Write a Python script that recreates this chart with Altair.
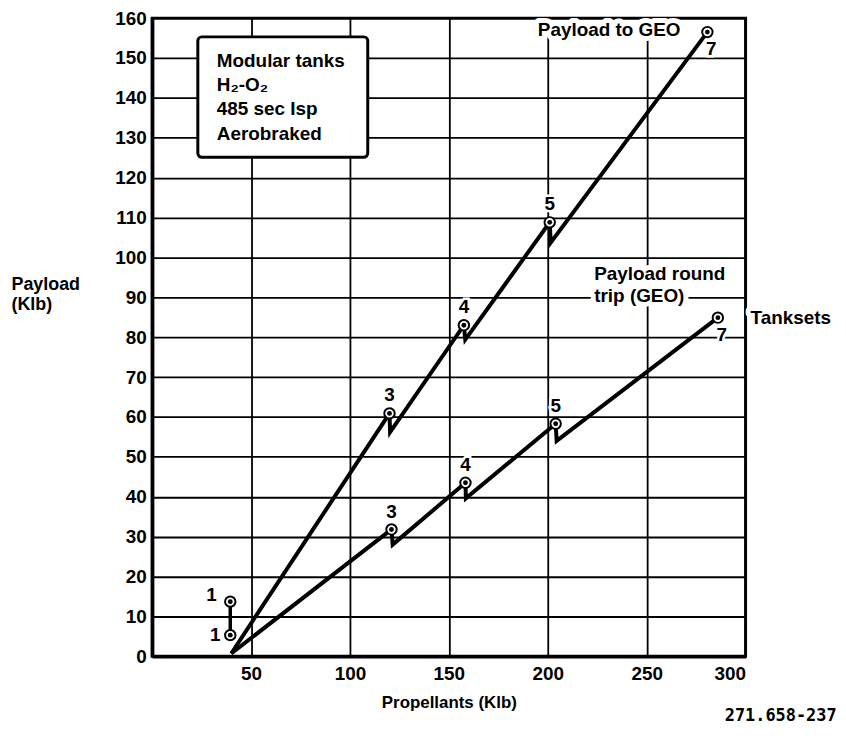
import altair as alt
import pandas as pd

FONT = "Liberation Sans"
FS = 19

# ---- series polylines (x = propellants Klb, y = payload Klb), notches included
geo_x = [40, 120, 120.3, 157.6, 158.3, 201, 201.5, 280.7]
geo_y = [0.7, 60.9, 56.2, 83.0, 79.4, 108.8, 103.7, 156.5]
rt_x = [40, 121, 121.6, 158.4, 158.6, 204, 204.5, 286]
rt_y = [0.7, 31.8, 28.0, 43.5, 39.6, 58.3, 54.0, 84.9]

# ---- tankset markers
mk_series = ["GEO", "GEO", "GEO", "GEO", "GEO", "RT", "RT", "RT", "RT", "RT"]
mk_label = ["1", "3", "4", "5", "7", "1", "3", "4", "5", "7"]
mk_x = [39.5, 120, 157.6, 201, 280.7, 39.5, 121, 158.4, 204, 286]
mk_y = [13.7, 60.9, 83.0, 108.8, 156.5, 5.3, 31.8, 43.5, 58.3, 84.9]
mk_pos = ["ul", "a", "a", "a", "br", "l", "a", "a", "a", "br"]

# ---- annotations
ann_text = ["Payload to GEO", "Payload round\ntrip (GEO)", "Tanksets"]
ann_x = [195, 223.5, 302.5]
ann_y = [157.1, 95.8, 84.9]
fig_id = "271.658-237"
fig_x, fig_y = 346, -14.9

box_text = "Modular tanks\nH₂-O₂\n485 sec Isp\nAerobraked"
box_x, box_x2 = 23.1, 109
box_y, box_y2 = 125.1, 155.3
box_tx, box_ty = 32.7, 151.6

x_ticks = [50, 100, 150, 200, 250, 300]
y_ticks = list(range(0, 161, 10))

lines = pd.DataFrame(
    [{"series": "GEO", "order": i, "x": x, "y": y} for i, (x, y) in enumerate(zip(geo_x, geo_y))]
    + [{"series": "RT", "order": i, "x": x, "y": y} for i, (x, y) in enumerate(zip(rt_x, rt_y))]
)
markers = pd.DataFrame({"series": mk_series, "label": mk_label, "x": mk_x, "y": mk_y, "pos": mk_pos})
link = markers[markers["label"] == "1"]
ann = pd.DataFrame({"text": ann_text, "x": ann_x, "y": ann_y})
figid = pd.DataFrame({"text": [fig_id], "x": [fig_x], "y": [fig_y]})
box = pd.DataFrame({"x": [box_x], "x2": [box_x2], "y": [box_y], "y2": [box_y2]})
boxt = pd.DataFrame({"text": [box_text], "x": [box_tx], "y": [box_ty]})

xs = alt.Scale(domain=[0, 300], nice=False, zero=False)
ys = alt.Scale(domain=[0, 160], nice=False, zero=False)

X = alt.X(
    "x:Q", scale=xs,
    axis=alt.Axis(values=x_ticks, title="Propellants (Klb)", titleY=47, titleBaseline="middle",
                  titleFontSize=17, labelPadding=8, ticks=False),
)
Y = alt.Y(
    "y:Q", scale=ys,
    axis=alt.Axis(values=y_ticks, title=["Payload", "(Klb)"], titleAngle=0, titleAlign="left",
                  titleBaseline="top", titleX=-142, titleY=259, titleLineHeight=20,
                  titleFontSize=18, labelPadding=6, ticks=False),
)

base = alt.Chart(lines)

rect = alt.Chart(box).mark_rect(fill="white", stroke="black", strokeWidth=3, cornerRadius=4).encode(
    x=alt.X("x:Q", scale=xs), x2="x2:Q", y=alt.Y("y:Q", scale=ys), y2="y2:Q"
)

boxtext = alt.Chart(boxt).mark_text(
    align="left", baseline="top", lineBreak="\n", lineHeight=24.5,
    font=FONT, fontSize=FS, fontWeight="bold", color="black",
).encode(x=alt.X("x:Q", scale=xs), y=alt.Y("y:Q", scale=ys), text="text:N")

line = base.mark_line(color="black", strokeWidth=4, strokeJoin="miter").encode(
    x=X, y=Y, detail="series:N", order="order:Q"
)

linkline = alt.Chart(link).mark_line(color="black", strokeWidth=3.5).encode(
    x=alt.X("x:Q", scale=xs), y=alt.Y("y:Q", scale=ys)
)

outer = alt.Chart(markers).mark_point(
    shape="circle", filled=True, fill="white", stroke="black", strokeWidth=2, size=110, opacity=1
).encode(x=alt.X("x:Q", scale=xs), y=alt.Y("y:Q", scale=ys))
inner = alt.Chart(markers).mark_point(
    shape="circle", filled=True, color="black", size=24, opacity=1
).encode(x=alt.X("x:Q", scale=xs), y=alt.Y("y:Q", scale=ys))


def labels(pos, dx, dy):
    layers = []
    for halo in (True, False):
        kw = dict(align="center", baseline="middle", dx=dx, dy=dy, font=FONT, fontSize=FS,
                  fontWeight="bold", color="black")
        if halo:
            kw.update(stroke="white", strokeWidth=5, color="white")
        layers.append(
            alt.Chart(markers).transform_filter(alt.datum.pos == pos).mark_text(**kw).encode(
                x=alt.X("x:Q", scale=xs), y=alt.Y("y:Q", scale=ys), text="label:N"
            )
        )
    return layers


lab_layers = labels("ul", -19, -7) + labels("l", -15, 0) + labels("a", 0, -18) + labels("br", 4, 17)

ann_layers = []
for halo in (True, False):
    kw = dict(align="left", baseline="middle", lineBreak="\n", lineHeight=22, font=FONT, fontSize=FS,
              fontWeight="bold", color="black")
    if halo:
        kw.update(stroke="white", strokeWidth=10, strokeJoin="round", color="white")
    ann_layers.append(
        alt.Chart(ann).mark_text(**kw).encode(
            x=alt.X("x:Q", scale=xs), y=alt.Y("y:Q", scale=ys), text="text:N"
        )
    )

fig_layer = alt.Chart(figid).mark_text(
    align="right", baseline="middle", font="DejaVu Sans Mono", fontSize=17, fontWeight="bold", color="black"
).encode(x=alt.X("x:Q", scale=xs), y=alt.Y("y:Q", scale=ys), text="text:N")

chart = alt.layer(
    line, rect, boxtext, linkline, outer, inner, *lab_layers, *ann_layers, fig_layer
).properties(
    width=597, height=642,
    autosize=alt.AutoSizeParams(type="none"),
    padding={"left": 145, "top": 8, "right": 93, "bottom": 75},
    background="white",
).configure_view(
    stroke="black", strokeWidth=3
).configure_axis(
    labelFont=FONT, labelFontSize=FS, labelFontWeight="bold", labelColor="black",
    titleFont=FONT, titleFontWeight="bold", titleColor="black",
    gridColor="black", gridWidth=1.8, gridOpacity=1,
    domainColor="black", domainWidth=3.5,
)

chart.save("out.html", embed_options={"renderer": "svg", "actions": False})
